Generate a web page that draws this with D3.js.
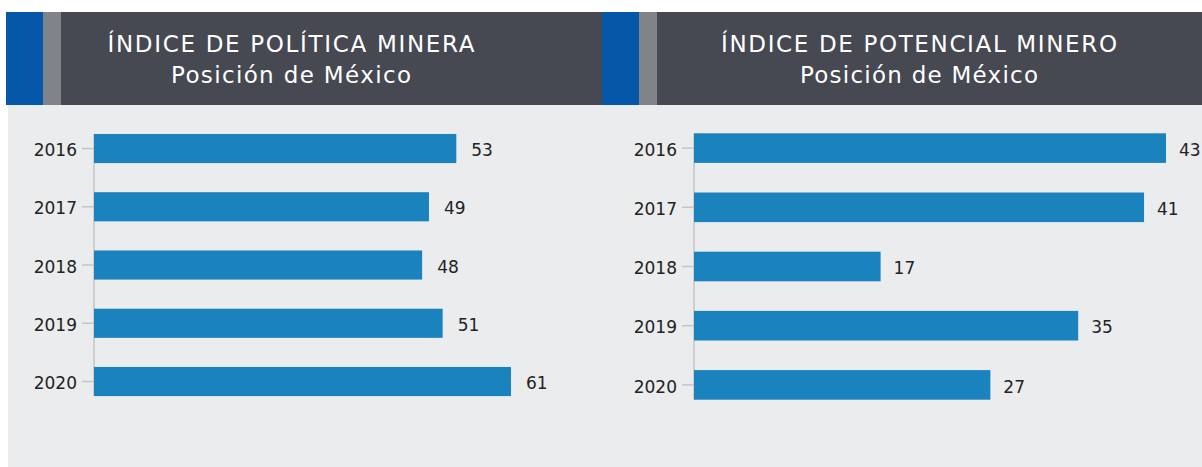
<!DOCTYPE html>
<html><head><meta charset="utf-8">
<script src="https://cdn.jsdelivr.net/npm/d3@7"></script>
<style>
html,body{margin:0;padding:0;background:#fff;}
svg{display:block;font-family:"DejaVu Sans",sans-serif;}
</style></head>
<body>
<svg id="chart" width="1202" height="467"></svg>
<script>
const years = ["2016","2017","2018","2019","2020"];
const politicaValues = [53, 49, 48, 51, 61];
const potencialValues = [43, 41, 17, 35, 27];
const titlesLeft = ["ÍNDICE DE POLÍTICA MINERA", "Posición de México"];
const titlesRight = ["ÍNDICE DE POTENCIAL MINERO", "Posición de México"];

const svg = d3.select("#chart");
const C = {dark:"#464952", blue:"#0558a8", stripe:"#808488", bar:"#1a82bd", bg:"#ebecee", text:"#222", axis:"#c4c4c4"};

// background panel
svg.append("rect").attr("x",8).attr("y",104).attr("width",1194).attr("height",363).attr("fill",C.bg);

function header(x0, x1, titleX, lines, widths){
  svg.append("rect").attr("x",x0).attr("y",12).attr("width",x1-x0).attr("height",93).attr("fill",C.dark);
  svg.append("rect").attr("x",x0).attr("y",12).attr("width",37).attr("height",93).attr("fill",C.blue);
  svg.append("rect").attr("x",x0+37).attr("y",12).attr("width",18).attr("height",93).attr("fill",C.stripe);
  [52, 83].forEach((yy, i) => {
    svg.append("text").attr("x",titleX - widths[i]/2).attr("y",yy)
      .attr("fill","#fff").attr("font-size",23)
      .attr("textLength",widths[i]).attr("lengthAdjust","spacing")
      .text(lines[i]);
  });
}
header(6, 602, 291, titlesLeft, [367, 240]);
header(602, 1202, 919, titlesRight, [396, 238]);

function panel(values, axisX, maxX, y0, step, labelOff){
  const x = d3.scaleLinear().domain([0, d3.max(values)]).range([axisX, maxX]);
  const y = d3.scaleBand().domain(years).range([y0, y0 + step*5]).paddingInner(0.5).paddingOuter(0.25);
  const data = years.map((yr,i)=>({yr, v: values[i]}));
  const g = svg.append("g");
  const ax = g.append("g").attr("transform",`translate(${axisX},0)`)
    .call(d3.axisLeft(y).tickSize(12).tickPadding(5).tickSizeOuter(0));
  ax.select(".domain").remove();
  ax.selectAll(".tick line").attr("stroke",C.axis).attr("stroke-width",1.5);
  ax.selectAll(".tick text").attr("font-size",17).attr("fill",C.text).attr("font-family","DejaVu Sans, sans-serif").attr("dy","0.45em");
  g.append("line").attr("x1",axisX).attr("x2",axisX)
    .attr("y1",y(years[0])).attr("y2",y(years[years.length-1])+y.bandwidth())
    .attr("stroke",C.axis).attr("stroke-width",1.5);
  g.selectAll("rect.bar").data(data).join("rect").attr("class","bar")
    .attr("x",x(0)).attr("y",d=>y(d.yr)).attr("width",d=>x(d.v)-x(0)).attr("height",y.bandwidth())
    .attr("fill",C.bar);
  g.selectAll("text.val").data(data).join("text").attr("class","val")
    .attr("x",d=>x(d.v)+labelOff).attr("y",d=>y(d.yr)+y.bandwidth()/2).attr("dy","0.45em")
    .attr("font-size",17).attr("fill",C.text).text(d=>d.v);
}
panel(politicaValues, 94, 511, 119.4, 58.25, 15);
panel(potencialValues, 694, 1166, 118.5, 59.2, 13);
</script>
</body></html>
